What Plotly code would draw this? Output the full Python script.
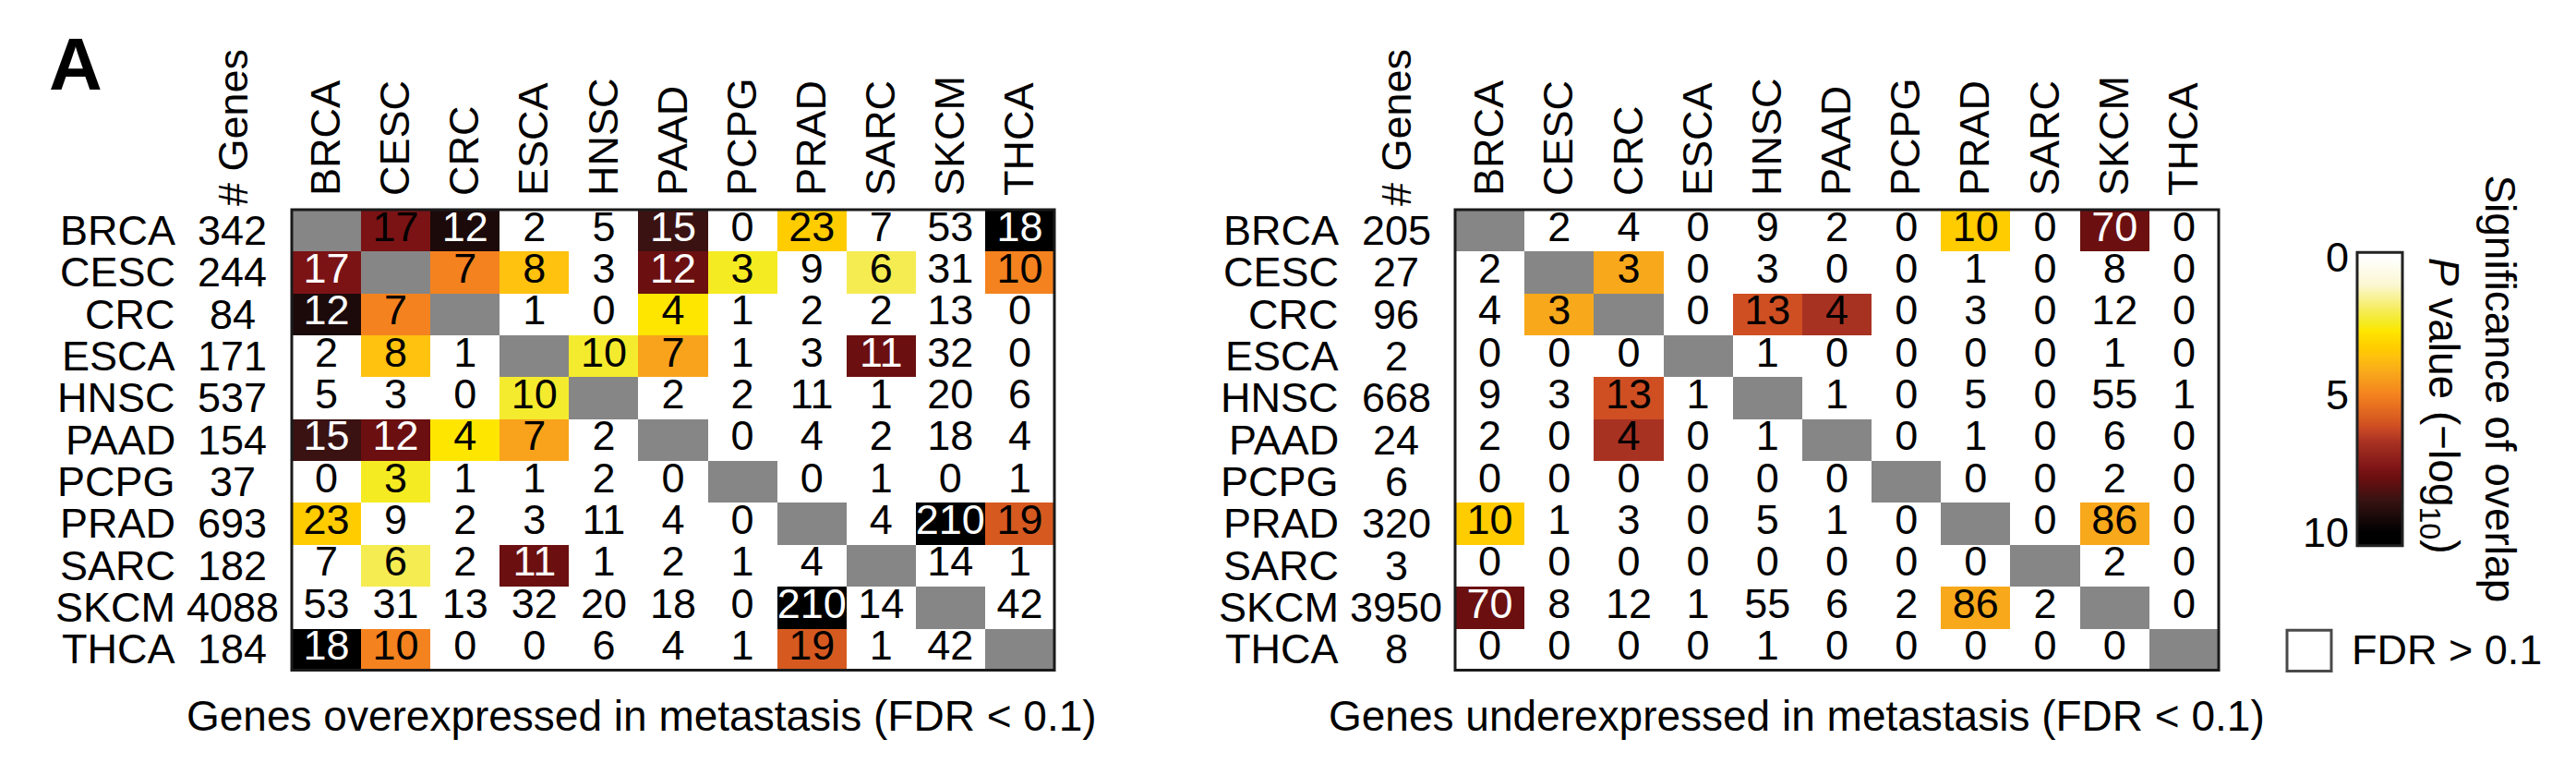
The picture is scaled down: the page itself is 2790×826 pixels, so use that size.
import plotly.graph_objects as go

W, H = 2790, 826
FONT = "Liberation Sans, Arial, Helvetica, sans-serif"

cancers = ["BRCA", "CESC", "CRC", "ESCA", "HNSC", "PAAD", "PCPG", "PRAD", "SARC", "SKCM", "THCA"]

over_genes = [342, 244, 84, 171, 537, 154, 37, 693, 182, 4088, 184]
under_genes = [205, 27, 96, 2, 668, 24, 6, 320, 3, 3950, 8]

# overlap counts (None = diagonal)
over_counts = [
    [None, 17, 12, 2, 5, 15, 0, 23, 7, 53, 18],
    [17, None, 7, 8, 3, 12, 3, 9, 6, 31, 10],
    [12, 7, None, 1, 0, 4, 1, 2, 2, 13, 0],
    [2, 8, 1, None, 10, 7, 1, 3, 11, 32, 0],
    [5, 3, 0, 10, None, 2, 2, 11, 1, 20, 6],
    [15, 12, 4, 7, 2, None, 0, 4, 2, 18, 4],
    [0, 3, 1, 1, 2, 0, None, 0, 1, 0, 1],
    [23, 9, 2, 3, 11, 4, 0, None, 4, 210, 19],
    [7, 6, 2, 11, 1, 2, 1, 4, None, 14, 1],
    [53, 31, 13, 32, 20, 18, 0, 210, 14, None, 42],
    [18, 10, 0, 0, 6, 4, 1, 19, 1, 42, None],
]
under_counts = [
    [None, 2, 4, 0, 9, 2, 0, 10, 0, 70, 0],
    [2, None, 3, 0, 3, 0, 0, 1, 0, 8, 0],
    [4, 3, None, 0, 13, 4, 0, 3, 0, 12, 0],
    [0, 0, 0, None, 1, 0, 0, 0, 0, 1, 0],
    [9, 3, 13, 1, None, 1, 0, 5, 0, 55, 1],
    [2, 0, 4, 0, 1, None, 0, 1, 0, 6, 0],
    [0, 0, 0, 0, 0, 0, None, 0, 0, 2, 0],
    [10, 1, 3, 0, 5, 1, 0, None, 0, 86, 0],
    [0, 0, 0, 0, 0, 0, 0, 0, None, 2, 0],
    [70, 8, 12, 1, 55, 6, 2, 86, 2, None, 0],
    [0, 0, 0, 0, 1, 0, 0, 0, 0, 0, None],
]

# significance of overlap, -log10 P (None = FDR > 0.1, shown white)
N_ = None
over_sig = [
    [N_, 7.7, 9.4, N_, N_, 8.8, N_, 3.3, N_, N_, 10],
    [7.7, N_, 5.0, 3.6, N_, 8.0, 2.4, N_, 2.0, N_, 5.0],
    [9.4, 5.0, N_, N_, N_, 2.7, N_, N_, N_, N_, N_],
    [N_, 3.6, N_, N_, 2.3, 4.3, N_, N_, 8.0, N_, N_],
    [N_, N_, N_, 2.3, N_, N_, N_, N_, N_, N_, N_],
    [8.8, 8.0, 2.7, 4.3, N_, N_, N_, N_, N_, N_, N_],
    [N_, 2.4, N_, N_, N_, N_, N_, N_, N_, N_, N_],
    [3.3, N_, N_, N_, N_, N_, N_, N_, N_, 10, 5.9],
    [N_, 2.0, N_, 8.0, N_, N_, N_, N_, N_, N_, N_],
    [N_, N_, N_, N_, N_, N_, N_, 10, N_, N_, N_],
    [10, 5.0, N_, N_, N_, N_, N_, 5.9, N_, N_, N_],
]
under_sig = [
    [N_, N_, N_, N_, N_, N_, N_, 3.3, N_, 8.0, N_],
    [N_, N_, 4.2, N_, N_, N_, N_, N_, N_, N_, N_],
    [N_, 4.2, N_, N_, 6.1, 6.7, N_, N_, N_, N_, N_],
    [N_, N_, N_, N_, N_, N_, N_, N_, N_, N_, N_],
    [N_, N_, 6.1, N_, N_, N_, N_, N_, N_, N_, N_],
    [N_, N_, 6.7, N_, N_, N_, N_, N_, N_, N_, N_],
    [N_, N_, N_, N_, N_, N_, N_, N_, N_, N_, N_],
    [3.3, N_, N_, N_, N_, N_, N_, N_, N_, 4.2, N_],
    [N_, N_, N_, N_, N_, N_, N_, N_, N_, N_, N_],
    [8.0, N_, N_, N_, N_, N_, N_, 4.2, N_, N_, N_],
    [N_, N_, N_, N_, N_, N_, N_, N_, N_, N_, N_],
]
# cells whose label is printed in black although dark
black_label_cells = [("over", "BRCA", "CESC")]

scale_ticks = [0, 5, 10]
scale_levels = [0, 1, 2, 3, 4, 5, 6, 7, 8, 9, 10]

colorscale = [
    [0.00, "#FFFFFF"], [0.10, "#FBF7D2"], [0.20, "#F5EC52"], [0.24, "#F5EB22"],
    [0.27, "#FFE600"], [0.33, "#FFCC00"], [0.36, "#FFC20E"], [0.42, "#F8A81B"],
    [0.50, "#F4821F"], [0.59, "#D65A20"], [0.62, "#CB4A25"], [0.67, "#A83222"],
    [0.77, "#7B1315"], [0.80, "#6B0F10"], [0.88, "#3A1212"], [0.94, "#1C0A0A"],
    [1.00, "#000000"],
]
GRAY = "#868686"
FS = 45

fig = go.Figure()

panels = [
    ("over", over_counts, over_sig, over_genes, "x", "y", (316, 1142),
     "Genes overexpressed in metastasis (FDR < 0.1)", 695),
    ("under", under_counts, under_sig, under_genes, "x2", "y2", (1576, 2403),
     "Genes underexpressed in metastasis (FDR < 0.1)", 1946),
]
TOP, BOT = 215, 733

for name, counts, sig, genes, xa, ya, (xl, xr), title, tx in panels:
    fig.add_trace(go.Heatmap(
        x=cancers, y=cancers, z=sig, zmin=0, zmax=10, colorscale=colorscale,
        showscale=False, hoverongaps=False, xaxis=xa, yaxis=ya))
    diag = [[1 if i == j else None for j in range(len(cancers))] for i in range(len(cancers))]
    fig.add_trace(go.Heatmap(
        x=cancers, y=cancers, z=diag, colorscale=[[0, GRAY], [1, GRAY]],
        showscale=False, hoverongaps=False, xaxis=xa, yaxis=ya))
    xs, ys, ts, cs = [], [], [], []
    for i, r in enumerate(cancers):
        for j, c in enumerate(cancers):
            v = counts[i][j]
            if v is None:
                continue
            s = sig[i][j]
            white = s is not None and s >= 7.5 and (name, r, c) not in black_label_cells
            xs.append(c); ys.append(r); ts.append(str(v))
            cs.append("white" if white else "black")
    fig.add_trace(go.Scatter(
        x=xs, y=ys, text=ts, mode="text", textposition="middle center",
        textfont=dict(size=FS, color=cs, family=FONT), xaxis=xa, yaxis=ya,
        hoverinfo="skip", showlegend=False))
    # row names and gene counts
    for r, g in zip(cancers, genes):
        fig.add_annotation(x=(xl - 125) / W, xref="paper", y=r, yref=ya,
                           text=r, showarrow=False, xanchor="right", yanchor="middle",
                           borderpad=0, font=dict(size=FS, family=FONT, color="black"))
        fig.add_annotation(x=(xl - 64) / W, xref="paper", y=r, yref=ya,
                           text=str(g), showarrow=False, xanchor="center", yanchor="middle",
                           borderpad=0, font=dict(size=FS, family=FONT, color="black"))
    fig.add_annotation(x=(xl - 64) / W, xref="paper", y=1 - 212 / H, yref="paper",
                       text="# Genes", textangle=-90, showarrow=False,
                       xanchor="center", yanchor="bottom", borderpad=0,
                       font=dict(size=FS, family=FONT, color="black"))
    fig.add_annotation(x=tx / W, xref="paper", y=1 - 784 / H, yref="paper",
                       text=title, showarrow=False, xanchor="center", yanchor="middle",
                       font=dict(size=46, family=FONT, color="black"))
    fig.add_shape(type="rect", xref=f"{xa} domain", yref=f"{ya} domain",
                  x0=0, x1=1, y0=0, y1=1, line=dict(color="#1a1a1a", width=3))

axis_common = dict(showgrid=False, zeroline=False, showline=False, ticks="",
                   tickfont=dict(size=FS, family=FONT, color="black"), fixedrange=True)

fig.update_layout(
    xaxis=dict(domain=[316 / W, 1142 / W], anchor="y", side="top", tickangle=-90,
               range=[-0.5, 10.5], categoryorder="array", categoryarray=cancers,
               tickmode="array", tickvals=cancers, ticklabelstandoff=14, **axis_common),
    yaxis=dict(domain=[1 - BOT / H, 1 - TOP / H], anchor="x", range=[10.5, -0.5],
               categoryorder="array", categoryarray=cancers, showticklabels=False,
               **axis_common),
    xaxis2=dict(domain=[1576 / W, 2403 / W], anchor="y2", side="top", tickangle=-90,
                range=[-0.5, 10.5], categoryorder="array", categoryarray=cancers,
                tickmode="array", tickvals=cancers, ticklabelstandoff=14, **axis_common),
    yaxis2=dict(domain=[1 - BOT / H, 1 - TOP / H], anchor="x2", range=[10.5, -0.5],
                categoryorder="array", categoryarray=cancers, showticklabels=False,
                **axis_common),
    xaxis3=dict(domain=[2553 / W, 2602 / W], anchor="y3", range=[0, 1],
                showticklabels=False, **axis_common),
    yaxis3=dict(domain=[1 - 593 / H, 1 - 263 / H], anchor="x3", range=[10.48, -0.16],
                tickmode="array", tickvals=scale_ticks, ticktext=[str(t) for t in scale_ticks],
                ticklabelstandoff=8, **axis_common),
)

# colour scale bar
fig.add_trace(go.Heatmap(
    x=[0, 1], y=scale_levels, z=[[v, v] for v in scale_levels], zmin=0, zmax=10,
    colorscale=colorscale, zsmooth="best", showscale=False, xaxis="x3", yaxis="y3",
    hoverinfo="skip"))
fig.add_shape(type="rect", xref="x3 domain", yref="y3 domain", x0=0, x1=1, y0=0, y1=1,
              line=dict(color="#222222", width=3))
fig.add_annotation(x=2708 / W, xref="paper", y=1 - 416 / H, yref="paper",
                   text="Significance of overlap", textangle=90, showarrow=False,
                   xanchor="center", yanchor="middle", borderpad=0,
                   font=dict(size=46, family=FONT, color="black"))
fig.add_annotation(x=2643 / W, xref="paper", y=1 - 435 / H, yref="paper",
                   text="<i>P</i> value (\u2212log<sub>10</sub>)", textangle=90, showarrow=False,
                   xanchor="center", yanchor="middle", borderpad=0,
                   font=dict(size=46, family=FONT, color="black"))

# FDR legend
fig.add_shape(type="rect", xref="paper", yref="paper",
              x0=2477 / W, x1=2525 / W, y0=1 - 734 / H, y1=1 - 688 / H,
              line=dict(color="#4a4a4a", width=3), fillcolor="white")
fig.add_annotation(x=2545 / W, xref="paper", y=1 - 710 / H, yref="paper",
                   text="FDR > 0.1", showarrow=False, xanchor="left", yanchor="middle",
                   font=dict(size=FS, family=FONT, color="black"))

# panel letter
fig.add_annotation(x=82 / W, xref="paper", y=1 - 51 / H, yref="paper",
                   text="<b>A</b>", showarrow=False, xanchor="center", yanchor="middle",
                   font=dict(size=80, family=FONT, color="black"))

fig.update_layout(width=W, height=H, margin=dict(l=0, r=0, t=0, b=0),
                  paper_bgcolor="white", plot_bgcolor="white", showlegend=False,
                  font=dict(family=FONT, color="black"))

fig.write_html("out.html", config={"displayModeBar": False},
               post_script="document.body.style.margin='0';document.body.style.overflow='hidden';")
